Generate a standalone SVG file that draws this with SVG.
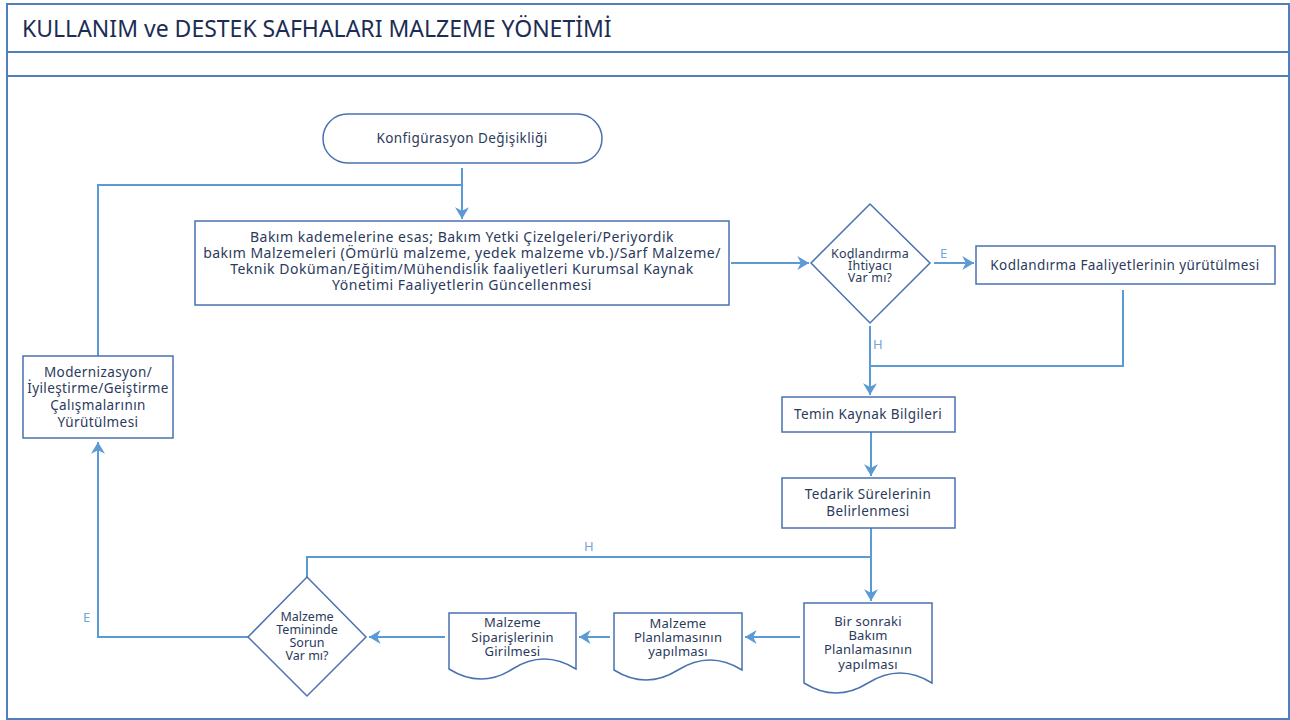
<svg xmlns="http://www.w3.org/2000/svg" width="1290" height="720" viewBox="0 0 1290 720">
<defs>
<marker id="ah" markerUnits="userSpaceOnUse" markerWidth="14" markerHeight="14" viewBox="0 0 10 12" refX="10" refY="6" orient="auto">
<path d="M0,0 L10,6 L0,12 L3,6 Z" fill="#5b9bd5"/>
</marker>
<style>
.frame{fill:none;stroke:#4f7fbf;stroke-width:2}
.shape{fill:#fff;stroke:#4a72b0;stroke-width:1.5}
.conn{fill:none;stroke:#5b9bd5;stroke-width:2}
.arr{marker-end:url(#ah)}
.t{font-family:"Noto Sans","DejaVu Sans",sans-serif;font-size:13.5px;letter-spacing:0.4px;fill:#2b3a5c;text-anchor:middle}
.b{font-size:14px;letter-spacing:0.5px}
.d{font-size:13px;letter-spacing:0.2px}
.s{font-size:12.5px;letter-spacing:0.2px}
.m{font-size:12.5px;letter-spacing:0px}
.lbl{font-family:"Noto Sans","DejaVu Sans",sans-serif;font-size:13px;fill:#6fa8dc}
.title{font-family:"Noto Sans","DejaVu Sans",sans-serif;font-size:23px;fill:#1c2d54}
</style>
</defs>
<rect width="1290" height="720" fill="#fff"/>
<g id="frame">
<rect class="frame" x="7" y="4" width="1282" height="715"/>
<line class="frame" x1="7" y1="52" x2="1289" y2="52"/>
<line class="frame" x1="7" y1="76" x2="1289" y2="76"/>
<text class="title" x="22" y="37">KULLANIM ve DESTEK SAFHALARI MALZEME YÖNETİMİ</text>
</g>
<g id="connectors">
<path class="conn arr" d="M462,168 V219"/>
<path class="conn" d="M98,356 V185 H462"/>
<path class="conn arr" d="M731,263 H809"/>
<path class="conn arr" d="M934,263 H974"/>
<text class="lbl" x="940" y="258">E</text>
<path class="conn arr" d="M870,326 V395"/>
<text class="lbl" x="873" y="349">H</text>
<path class="conn" d="M1123,290 V366 H870"/>
<path class="conn arr" d="M871,432 V476"/>
<path class="conn arr" d="M871,528 V601"/>
<path class="conn" d="M871,557 H307 V577"/>
<text class="lbl" x="584" y="551">H</text>
<path class="conn arr" d="M800,637 H745"/>
<path class="conn arr" d="M610,637 H579"/>
<path class="conn arr" d="M445,637 H369"/>
<path class="conn arr" d="M248,637 H98 V442"/>
<text class="lbl" x="83" y="622">E</text>
</g>
<g id="n-konfig">
<rect class="shape" x="323" y="114" width="279" height="49" rx="24.5"/>
<text class="t" x="462" y="143">Konfigürasyon Değişikliği</text>
</g>
<g id="n-bakim">
<rect class="shape" x="195" y="221" width="534" height="84"/>
<text class="t b" x="462" y="242">Bakım kademelerine esas; Bakım Yetki Çizelgeleri/Periyordik</text>
<text class="t b" x="462" y="258">bakım Malzemeleri (Ömürlü malzeme, yedek malzeme vb.)/Sarf Malzeme/</text>
<text class="t b" x="462" y="274">Teknik Doküman/Eğitim/Mühendislik faaliyetleri Kurumsal Kaynak</text>
<text class="t b" x="462" y="290">Yönetimi Faaliyetlerin Güncellenmesi</text>
</g>
<g id="n-kod-karar">
<polygon class="shape" points="870,204 930,263 870,323 811,263"/>
<text class="t s" x="870" y="258">Kodlandırma</text>
<text class="t s" x="870" y="270">İhtiyacı</text>
<text class="t s" x="870" y="282">Var mı?</text>
</g>
<g id="n-kod">
<rect class="shape" x="976" y="246" width="299" height="38"/>
<text class="t" x="1125" y="270">Kodlandırma Faaliyetlerinin yürütülmesi</text>
</g>
<g id="n-temin">
<rect class="shape" x="782" y="397" width="173" height="35"/>
<text class="t" x="868" y="419">Temin Kaynak Bilgileri</text>
</g>
<g id="n-tedarik">
<rect class="shape" x="782" y="478" width="173" height="50"/>
<text class="t" x="868" y="499">Tedarik Sürelerinin</text>
<text class="t" x="868" y="516">Belirlenmesi</text>
</g>
<g id="n-bir-sonraki">
<path class="shape" d="M804,603 H932 V683 Q900,663 868,683 T804,683 Z"/>
<text class="t d" x="868" y="626">Bir sonraki</text>
<text class="t d" x="868" y="640">Bakım</text>
<text class="t d" x="868" y="654">Planlamasının</text>
<text class="t d" x="868" y="669">yapılması</text>
</g>
<g id="n-planlama">
<path class="shape" d="M614,613 H742 V670 Q710,650 678,670 T614,670 Z"/>
<text class="t d" x="678" y="628">Malzeme</text>
<text class="t d" x="678" y="642">Planlamasının</text>
<text class="t d" x="678" y="656">yapılması</text>
</g>
<g id="n-siparis">
<path class="shape" d="M449,613 H576 V669 Q544,649 512.5,669 T449,669 Z"/>
<text class="t d" x="512.5" y="627">Malzeme</text>
<text class="t d" x="512.5" y="642">Siparişlerinin</text>
<text class="t d" x="512.5" y="656">Girilmesi</text>
</g>
<g id="n-sorun-karar">
<polygon class="shape" points="307,577 366,637 307,696 248,637"/>
<text class="t m" x="307" y="621">Malzeme</text>
<text class="t m" x="307" y="634">Temininde</text>
<text class="t m" x="307" y="647">Sorun</text>
<text class="t m" x="307" y="660">Var mı?</text>
</g>
<g id="n-modernizasyon">
<rect class="shape" x="23" y="356" width="150" height="82"/>
<text class="t" x="98" y="377">Modernizasyon/</text>
<text class="t" x="98" y="393">İyileştirme/Geiştirme</text>
<text class="t" x="98" y="410">Çalışmalarının</text>
<text class="t" x="98" y="427">Yürütülmesi</text>
</g>
</svg>
